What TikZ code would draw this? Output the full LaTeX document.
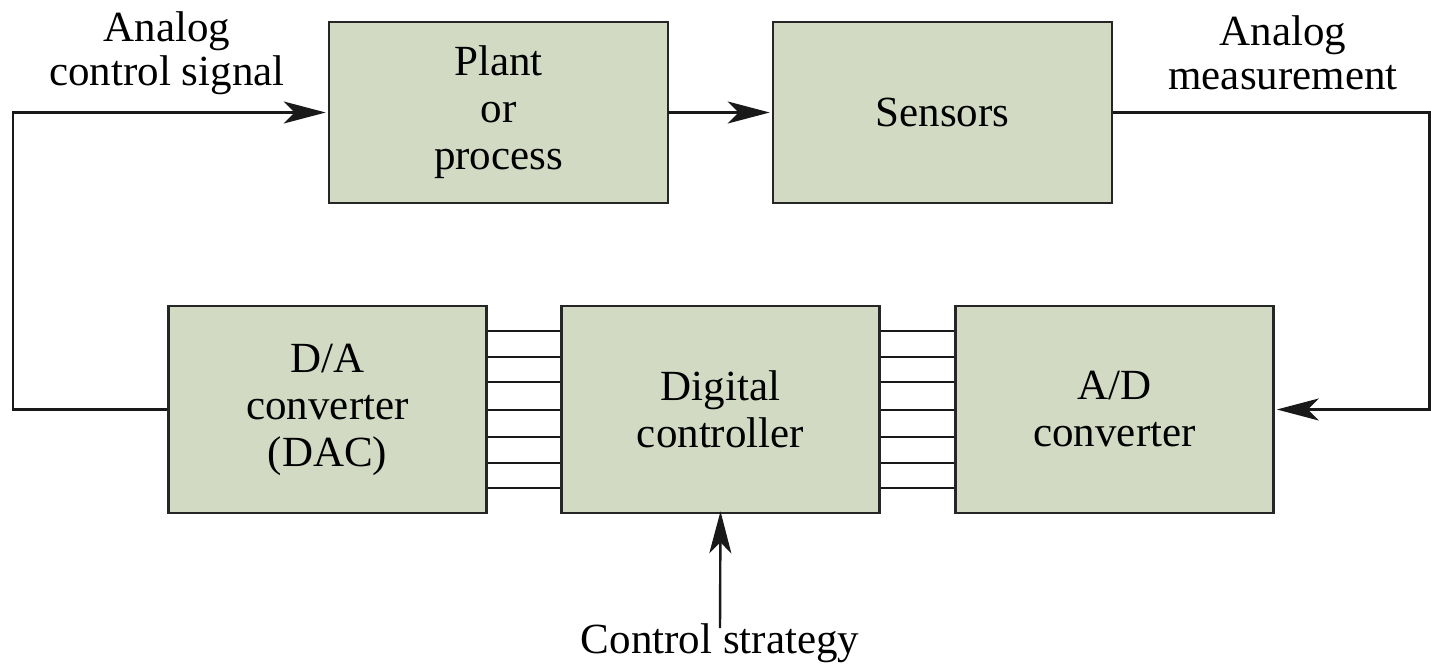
\documentclass[tikz,border=0pt]{standalone}
\usepackage{fontspec}
\setmainfont{Liberation Serif}
\usetikzlibrary{arrows.meta,calc}
\definecolor{boxfill}{RGB}{211,218,195}
\tikzset{
  blk/.style={draw=black!85, line width=2.6pt, fill=boxfill, inner sep=0pt, align=center,
    font=\fontsize{43}{47}\selectfont},
  wide/.style={blk, minimum width=339pt, minimum height=181pt},
  low/.style={blk, minimum width=318pt, minimum height=207pt},
  conn/.style={line width=2.4pt, draw=black!90},
  arr/.style={conn, -{Stealth[length=42pt,width=22pt,inset=11pt]}},
  lbl/.style={align=center, inner sep=0pt, font=\fontsize{43}{44}\selectfont},
}
\begin{document}
\begin{tikzpicture}[x=1pt,y=-1pt]
\useasboundingbox (0,0) rectangle (1431,671);
\node[wide] (plant) at (498.5,112.5) {Plant\\or\\process};
\node[wide] (sens) at (942.5,112.5) {Sensors};
\node[low] (da) at (327.5,409.5) {D/A\\converter\\(DAC)};
\node[low] (dc) at (720.5,409.5) {Digital\\controller};
\node[low] (ad) at (1114.5,409.5) {A/D\\converter};
\node[lbl] (acs) at (167,53) {Analog\\control signal};
\node[lbl] (am) at (1283,53) {Analog\\measurement};
\node[lbl, anchor=north] (cs) at (720,623) {Control strategy};
\foreach \y in {331,357,382,410,437,463,488}
  \draw[conn] (da.east |- 0,\y) -- (dc.west |- 0,\y);
\foreach \y in {331,357,382,410,437,463,488}
  \draw[conn] (dc.east |- 0,\y) -- (ad.west |- 0,\y);
\coordinate (lc) at (13,409.5);
\coordinate (rc) at (1429.5,409.5);
\draw[arr] (da.west) -- (lc) |- ([xshift=-2pt]plant.west);
\draw[arr] ([xshift=-1pt]plant.east) -- ([xshift=-2pt]sens.west);
\draw[arr] (sens.east) -| (rc) -- ([xshift=2pt]ad.east);
\draw[arr] ([yshift=-5pt]cs.north) -- ([yshift=3pt]dc.south);
\end{tikzpicture}
\end{document}
